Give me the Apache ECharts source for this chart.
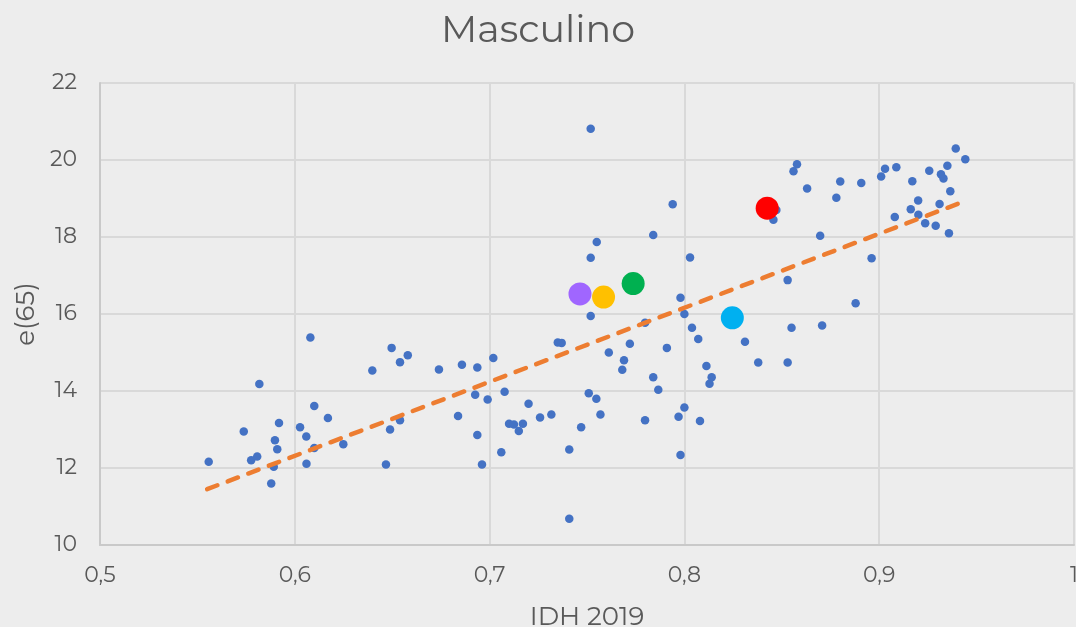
<!DOCTYPE html>
<html>
<head>
<meta charset="utf-8">
<script src="https://cdn.jsdelivr.net/npm/echarts@6/dist/echarts.min.js"></script>
<style>
  html, body { margin: 0; padding: 0; background: #ededed; }
  #chart { width: 1076px; height: 627px; }
</style>
</head>
<body>
<div id="chart"></div>
<script>
// IDH 2019 vs e(65), masculino
const idh = [
  0.5558, 0.5776, 0.5807, 0.5818, 0.5738, 0.5879, 0.5892, 0.5898, 0.5910, 0.5919,
  0.6027, 0.6059, 0.6060, 0.6080, 0.6100, 0.6100, 0.6170, 0.6249, 0.6398, 0.6468,
  0.6489, 0.6497, 0.6540, 0.6540, 0.6580, 0.6740, 0.6838, 0.6858, 0.6926, 0.6937,
  0.6937, 0.6961, 0.6990, 0.7019, 0.7060, 0.7077, 0.7100, 0.7125, 0.7150, 0.7171,
  0.7200, 0.7259, 0.7317, 0.7350, 0.7370, 0.7409, 0.7409, 0.7470, 0.7509, 0.7519,
  0.7519, 0.7519, 0.7548, 0.7550, 0.7569, 0.7612, 0.7681, 0.7690, 0.7720, 0.7798,
  0.7798, 0.7840, 0.7840, 0.7866, 0.7910, 0.7940, 0.7970, 0.7980, 0.7980, 0.8000,
  0.8000, 0.8029, 0.8039, 0.8071, 0.8080, 0.8113, 0.8129, 0.8140, 0.8311, 0.8379,
  0.8457, 0.8472, 0.8530, 0.8530, 0.8550, 0.8560, 0.8578, 0.8630, 0.8697, 0.8707,
  0.8780, 0.8800, 0.8879, 0.8908, 0.8961, 0.9010, 0.9030, 0.9080, 0.9088, 0.9162,
  0.9170, 0.9200, 0.9201, 0.9236, 0.9257, 0.9290, 0.9310, 0.9317, 0.9330, 0.9350,
  0.9358, 0.9365, 0.9393, 0.9442
]
const e65 = [
  12.16, 12.20, 12.30, 14.18, 12.95, 11.60, 12.03, 12.72, 12.49, 13.17,
  13.06, 12.82, 12.11, 15.39, 13.61, 12.52, 13.30, 12.62, 14.53, 12.09,
  13.00, 15.12, 14.75, 13.24, 14.93, 14.56, 13.35, 14.68, 13.90, 14.61,
  12.86, 12.09, 13.78, 14.86, 12.41, 13.98, 13.15, 13.13, 12.96, 13.15,
  13.67, 13.31, 13.39, 15.26, 15.25, 12.48, 10.68, 13.06, 13.94, 20.81,
  17.46, 15.95, 13.80, 17.87, 13.39, 15.00, 14.55, 14.80, 15.23, 15.77,
  13.24, 18.05, 14.36, 14.03, 15.12, 18.85, 13.33, 16.42, 12.34, 16.00,
  13.57, 17.47, 15.64, 15.35, 13.22, 14.65, 14.19, 14.36, 15.28, 14.74,
  18.45, 18.70, 16.88, 14.74, 15.64, 19.71, 19.89, 19.26, 18.03, 15.70,
  19.02, 19.44, 16.28, 19.40, 17.45, 19.57, 19.77, 18.52, 19.81, 18.72,
  19.45, 18.95, 18.58, 18.36, 19.72, 18.29, 18.86, 19.63, 19.52, 19.85,
  18.10, 19.19, 20.30, 20.02
]

// highlighted countries (big markers)
const hiIdh = [0.7464, 0.7585, 0.7737, 0.8246, 0.8425]
const hiE65 = [16.52, 16.44, 16.79, 15.90, 18.75]
const hiColors = ['#a066ff', '#ffc000', '#00b050', '#00b0f0', '#ff0000']

// linear trend
const trendIdh = [0.5550, 0.9403]
const trendE65 = [11.45, 18.86]

const xTicks = ['0,5', '0,6', '0,7', '0,8', '0,9', '1']

const font = 'Montserrat, Inter, sans-serif'
const txt = '#595959'

const pts = idh.map((x, i) => [x, e65[i]])
const hiPts = hiIdh.map((x, i) => ({
  value: [x, hiE65[i]],
  itemStyle: { color: hiColors[i] }
}))
const trendPts = trendIdh.map((x, i) => [x, trendE65[i]])

const chart = echarts.init(document.getElementById('chart'), null, { renderer: 'canvas' })

chart.setOption({
  animation: false,
  backgroundColor: '#ededed',
  title: {
    text: 'Masculino',
    left: 'center',
    top: 7,
    textStyle: { fontFamily: font, fontSize: 38, fontWeight: 'normal', color: txt }
  },
  grid: { left: 100, right: 2, top: 83, bottom: 82, outerBoundsMode: 'none', containLabel: false },
  xAxis: {
    type: 'value',
    min: 0.5,
    max: 1,
    interval: 0.1,
    name: 'IDH 2019',
    nameLocation: 'middle',
    nameGap: 59,
    nameTextStyle: { fontFamily: font, fontSize: 26, color: txt },
    axisLine: { show: true, lineStyle: { color: '#c9c9c9', width: 2 } },
    axisTick: { show: false },
    axisLabel: {
      fontFamily: font, fontSize: 22, color: txt, margin: 20,
      formatter: (v) => xTicks[Math.round((v - 0.5) * 10)]
    },
    splitLine: { show: true, lineStyle: { color: '#d9d9d9', width: 2 } }
  },
  yAxis: {
    type: 'value',
    min: 10,
    max: 22,
    interval: 2,
    name: 'e(65)',
    nameLocation: 'middle',
    nameGap: 59,
    nameTextStyle: { fontFamily: font, fontSize: 26, color: txt },
    axisLine: { show: true, lineStyle: { color: '#c9c9c9', width: 2 } },
    axisTick: { show: false },
    axisLabel: { fontFamily: font, fontSize: 22, color: txt, margin: 23 },
    splitLine: { show: true, lineStyle: { color: '#d9d9d9', width: 2 } }
  },
  series: [
    {
      type: 'scatter',
      data: pts,
      symbolSize: 8.5,
      itemStyle: { color: '#4472c4', opacity: 1 },
      z: 2
    },
    {
      type: 'line',
      data: trendPts,
      symbol: 'none',
      lineStyle: { color: '#ed7d31', width: 4.5, type: [11, 11], cap: 'round' },
      z: 3
    },
    {
      type: 'scatter',
      data: hiPts,
      symbolSize: 23,
      itemStyle: { opacity: 1 },
      z: 4
    }
  ]
})
</script>
</body>
</html>
